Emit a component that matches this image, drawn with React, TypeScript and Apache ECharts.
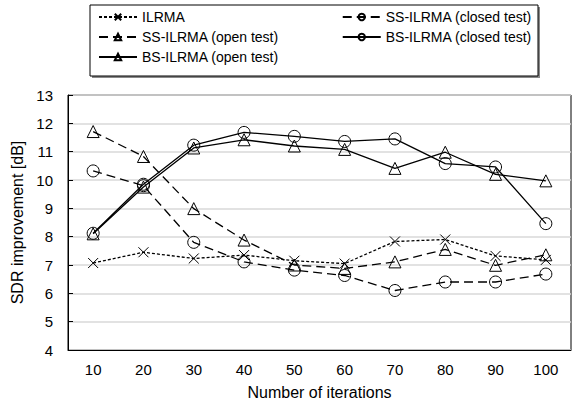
import React, { useEffect, useRef } from "react";
import * as echarts from "echarts";

const categories = ["10", "20", "30", "40", "50", "60", "70", "80", "90", "100"];
const ilrma = [7.07, 7.45, 7.23, 7.35, 7.15, 7.05, 7.83, 7.9, 7.32, 7.18];
const ssClosed = [10.32, 9.8, 7.8, 7.11, 6.82, 6.63, 6.1, 6.4, 6.4, 6.68];
const ssOpen = [11.71, 10.83, 8.99, 7.88, 7.0, 6.88, 7.11, 7.55, 6.99, 7.36];
const bsClosed = [8.12, 9.85, 11.23, 11.68, 11.54, 11.36, 11.45, 10.58, 10.46, 8.46];
const bsOpen = [8.1, 9.75, 11.13, 11.42, 11.2, 11.08, 10.41, 10.98, 10.2, 9.97];

const FONT = "Liberation Sans";
const CROSS = "path://M0,0L10,10M10,0L0,10";

export default function App() {
  const ref = useRef<HTMLDivElement>(null);
  useEffect(() => {
    if (!ref.current) return;
    const chart = echarts.init(ref.current, null, { renderer: "svg" });
    const mk = (
      name: string,
      data: number[],
      symbol: string,
      dash: any,
      size: number
    ) => ({
      name,
      type: "line",
      data,
      symbol,
      symbolSize: size,
      color: "#000",
      lineStyle: { color: "#000", width: 1.3, type: dash },
      itemStyle: { color: "rgba(0,0,0,0)", borderColor: "#000", borderWidth: 1 },
      emphasis: { disabled: true },
    });
    const legendCommon = {
      orient: "vertical",
      padding: 0,
      itemWidth: 38,
      itemHeight: 8,
      itemGap: 4,
      textStyle: { fontFamily: FONT, fontSize: 14, color: "#000", lineHeight: 16 },
      selectedMode: false,
    };
    chart.setOption({
      animation: false,
      textStyle: { fontFamily: FONT },
      graphic: [
        {
          type: "rect",
          shape: { x: 92, y: 7, width: 448, height: 71 },
          style: { fill: "#888" },
          z: 0,
        },
        {
          type: "rect",
          shape: { x: 90, y: 5, width: 448, height: 71 },
          style: { fill: "#fff", stroke: "#000", lineWidth: 1 },
          z: 1,
        },
      ],
      legend: [
        {
          ...legendCommon,
          left: 98,
          top: 9,
          data: ["ILRMA", "SS-ILRMA (open test)", "BS-ILRMA (open test)"],
          z: 5,
        },
        {
          ...legendCommon,
          right: 41,
          top: 9,
          data: ["SS-ILRMA (closed test)", "BS-ILRMA (closed test)"],
          z: 5,
        },
      ],
      grid: {
        left: 68,
        right: 2,
        top: 95,
        bottom: 52,
        show: true,
        borderColor: "#000",
        borderWidth: 1,
        backgroundColor: "transparent",
      },
      xAxis: {
        type: "category",
        data: categories,
        boundaryGap: true,
        name: "Number of iterations",
        nameLocation: "middle",
        nameGap: 34,
        nameTextStyle: { fontFamily: FONT, fontSize: 16, color: "#000" },
        axisLine: { lineStyle: { color: "#000", width: 1 } },
        axisTick: { inside: true, alignWithLabel: true, length: 5, lineStyle: { color: "#000" } },
        axisLabel: { fontFamily: FONT, fontSize: 15, color: "#000", margin: 12 },
        splitLine: { show: false },
      },
      yAxis: {
        type: "value",
        min: 4,
        max: 13,
        interval: 1,
        name: "SDR improvement [dB]",
        nameLocation: "middle",
        nameGap: 32,
        nameRotate: 90,
        nameTextStyle: { fontFamily: FONT, fontSize: 16, color: "#000" },
        axisLine: { show: true, lineStyle: { color: "#000", width: 1 } },
        axisTick: { show: true, inside: true, length: 5, lineStyle: { color: "#000" } },
        axisLabel: { fontFamily: FONT, fontSize: 15, color: "#000", margin: 15 },
        splitLine: { lineStyle: { color: "#d9d9d9", width: 1.5 } },
      },
      series: [
        mk("ILRMA", ilrma, CROSS, [3, 2], 10),
        mk("SS-ILRMA (closed test)", ssClosed, "circle", [9, 5], 12),
        mk("SS-ILRMA (open test)", ssOpen, "triangle", [9, 5], 12),
        mk("BS-ILRMA (closed test)", bsClosed, "circle", "solid", 12),
        mk("BS-ILRMA (open test)", bsOpen, "triangle", "solid", 12),
      ],
    });
    return () => chart.dispose();
  }, []);
  return <div ref={ref} style={{ width: 573, height: 405, position: "absolute", left: 0, top: 0 }} />;
}
